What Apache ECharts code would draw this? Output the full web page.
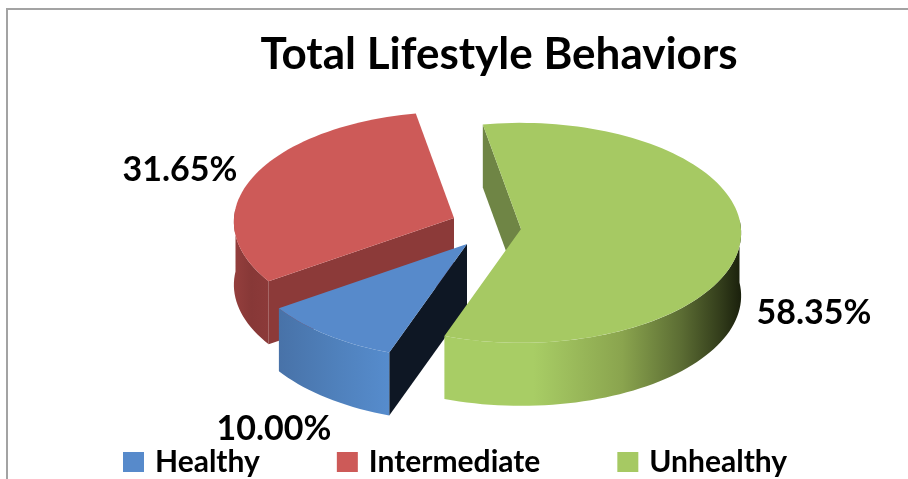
<!DOCTYPE html>
<html style="height: 100%">

<head>
    <meta charset="utf-8">
</head>

<body style="height: 100%; margin: 0; background: #fff">
    <div id="container" style="width: 908px; height: 479px"></div>

    <script src="https://cdn.jsdelivr.net/npm/echarts@6/dist/echarts.min.js"></script>
    <script type="text/javascript">
        // data
        var chartTitle = 'Total Lifestyle Behaviors';
        var categories = ['Healthy', 'Intermediate', 'Unhealthy'];
        var shares = [10.00, 31.65, 58.35];

        // 3D look: ellipse, depth and per slice placement (explode)
        var firstAngle = 199.7;
        var radiusX = 220, radiusY = 110, perspective = 0.035, depth = 63;
        var fontName = 'Lato';
        var looks = [{
            cx: 467, cy: 244, scale: 1.015, z: 2, labelX: 274, labelY: 429,
            top: '#578acb', radial: '#0e1724',
            wall: [[0, '#4872a8'], [0.5, '#4f80bb'], [1, '#568ccd']]
        }, {
            cx: 454, cy: 218, scale: 1, z: 1, labelX: 180, labelY: 170,
            top: '#cd5a58', radial: '#8c3a39',
            wall: [[0, '#943f3d'], [0.5, '#873837'], [1, '#8c3a39']]
        }, {
            cx: 521, cy: 229, scale: 1, z: 3, labelX: 814, labelY: 313,
            top: '#a6c963', radial: '#6f8545',
            wall: [[0, '#a8cd65'], [0.3, '#a8cd65'], [0.6, '#8aa44e'], [0.8, '#5b6c33'], [0.93, '#333d1b'], [1, '#1a200c']]
        }];

        var chartDom = document.getElementById('container');
        var myChart = echarts.init(chartDom);

        function sumBefore(index) {
            var sum = 0;
            for (var i = 0; i < index; i++) sum += shares[i];
            return sum;
        }

        // angle in degrees, clockwise from the top of the ellipse
        function rimPoint(look, deg, drop) {
            var rad = deg * Math.PI / 180;
            var ux = Math.sin(rad), uy = -Math.cos(rad);
            var p = (1 + perspective * uy) * look.scale;
            return [look.cx + radiusX * ux * p, look.cy + radiusY * uy * p + drop];
        }

        function arc(look, from, to, drop) {
            var pts = [];
            var steps = Math.max(2, Math.ceil(Math.abs(to - from) / 2));
            for (var i = 0; i <= steps; i++) {
                pts.push(rimPoint(look, from + (to - from) * i / steps, drop));
            }
            return pts;
        }

        function makeRenderItem(index) {
            var look = looks[index];
            return function (params, api) {
                var value = api.value(0);
                var start = firstAngle + sumBefore(index) * 3.6;
                var end = start + value * 3.6;
                var children = [];

                // flat wall along the first edge of the slice
                var rim = rimPoint(look, start, 0);
                var rimLow = rimPoint(look, start, depth);
                children.push({
                    type: 'polygon',
                    shape: { points: [[look.cx, look.cy], rim, rimLow, [look.cx, look.cy + depth]] },
                    style: { fill: look.radial }
                });

                // curved wall, only the part facing the viewer
                for (var k = 0; k < 2; k++) {
                    var lo = Math.max(start, 85 + 360 * k);
                    var hi = Math.min(end, 275 + 360 * k);
                    if (hi <= lo) continue;
                    children.push({
                        type: 'polygon',
                        shape: { points: arc(look, lo, hi, 0).concat(arc(look, hi, lo, depth)) },
                        style: {
                            fill: new echarts.graphic.LinearGradient(0, 0, 1, 0, look.wall.map(function (s) {
                                return { offset: s[0], color: s[1] };
                            }))
                        }
                    });
                }

                // top face
                children.push({
                    type: 'polygon',
                    shape: { points: [[look.cx, look.cy]].concat(arc(look, start, end, 0)) },
                    style: { fill: look.top }
                });

                children.push({
                    type: 'text',
                    style: {
                        x: look.labelX,
                        y: look.labelY,
                        text: value.toFixed(2) + '%',
                        fill: '#000',
                        font: 'bold 34px ' + fontName,
                        align: 'center',
                        verticalAlign: 'middle'
                    }
                });

                return { type: 'group', children: children };
            };
        }

        var option = {
            backgroundColor: '#fff',
            animation: false,
            title: {
                text: chartTitle,
                left: 494,
                top: 28,
                textAlign: 'center',
                textStyle: { color: '#000', fontFamily: fontName, fontWeight: 'bold', fontSize: 44 }
            },
            legend: {
                data: categories,
                left: 123,
                top: 447,
                padding: 0,
                icon: 'rect',
                itemWidth: 21,
                itemHeight: 20,
                itemGap: 77,
                selectedMode: false,
                textStyle: { color: '#000', fontFamily: fontName, fontWeight: 'bold', fontSize: 30, padding: [0, 0, 0, 6] }
            },
            graphic: [{
                type: 'rect',
                shape: { x: 7, y: 9, width: 1000, height: 600 },
                style: { fill: 'none', stroke: '#a3a3a3', lineWidth: 2 },
                silent: true
            }],
            series: categories.map(function (name, i) {
                return {
                    name: name,
                    type: 'custom',
                    coordinateSystem: 'none',
                    z: looks[i].z + 2,
                    itemStyle: { color: looks[i].top },
                    renderItem: makeRenderItem(i),
                    data: [[shares[i]]]
                };
            })
        };

        myChart.setOption(option);
    </script>
</body>

</html>
